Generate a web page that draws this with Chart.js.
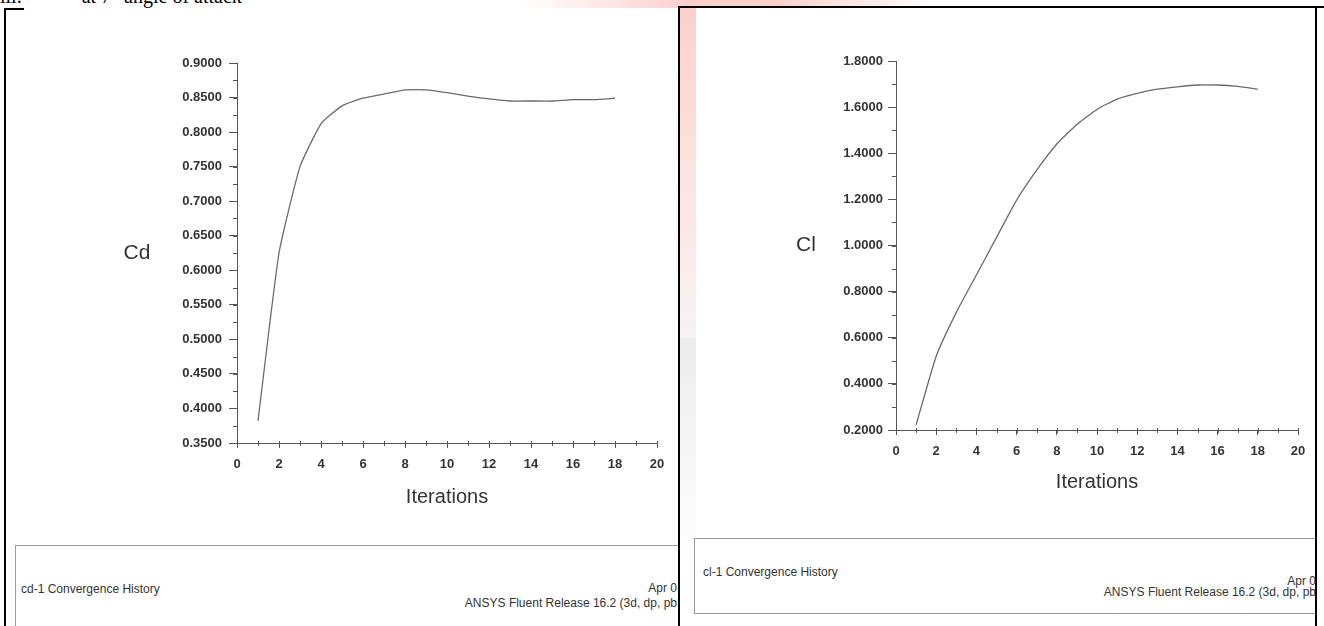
<!DOCTYPE html>
<html>
<head>
<meta charset="utf-8">
<script src="https://cdn.jsdelivr.net/npm/chart.js@4"></script>
<style>
  html, body { margin: 0; padding: 0; background: #fff; }
  body { width: 1324px; height: 626px; position: relative; overflow: hidden; font-family: 'Liberation Sans', Arial, sans-serif; }
  .abs { position: absolute; }
  .heading { top: -14px; left: 0; font: 20px/20px 'Liberation Serif', 'Times New Roman', serif; white-space: pre; color: #000; }
  .panel { position: absolute; overflow: hidden; }
  .footer { position: absolute; border: 1px solid #9a9a9a; background: #fff; }
  .ftxt { position: absolute; font-size: 12px; color: #333; white-space: pre; }
</style>
</head>
<body>
<!-- faint watermark behind the two plots -->
<div class="abs" style="left:520px; top:0; width:420px; height:8px; background:linear-gradient(90deg, rgba(245,150,140,0), rgba(245,150,140,0.45) 40%, rgba(245,150,140,0.45) 60%, rgba(245,150,140,0));"></div>
<div class="abs" style="left:680px; top:8px; width:16px; height:330px; background:linear-gradient(180deg, rgba(248,170,160,0.55), rgba(248,185,175,0.35) 60%, rgba(220,200,210,0.25));"></div>
<div class="abs" style="left:680px; top:338px; width:16px; height:230px; background:linear-gradient(180deg, rgba(200,200,200,0.35), rgba(220,220,220,0));"></div>

<div class="abs heading">iii.            at 7° angle of attack</div>

<!-- left plot: drag coefficient -->
<div class="panel" style="left:0; top:0; width:678px; height:626px;">
  <div class="abs" style="left:4px; top:8px; width:20px; height:2px; background:#000;"></div>
  <div class="abs" style="left:4px; top:8px; width:2px; height:620px; background:#000;"></div>
  <div class="abs" style="left:100px; top:40px; width:576px; height:480px;"><canvas id="cdChart"></canvas></div>
  <div class="footer" style="left:15px; top:545px; width:700px; height:120px;"></div>
  <div class="ftxt" style="left:21px; top:582px;">cd-1 Convergence History</div>
  <div class="ftxt" style="right:1px; top:581px;">Apr 0</div>
  <div class="ftxt" style="right:1px; top:596px;">ANSYS Fluent Release 16.2 (3d, dp, pb</div>
</div>

<!-- right plot: lift coefficient -->
<div class="abs" style="left:678px; top:6px; width:646px; height:2px; background:#000;"></div>
<div class="abs" style="left:678px; top:6px; width:2px; height:620px; background:#000;"></div>
<div class="panel" style="left:680px; top:8px; width:636px; height:618px;">
  <div class="abs" style="left:80px; top:22px; width:556px; height:480px;"><canvas id="clChart"></canvas></div>
  <div class="footer" style="left:14px; top:530px; width:700px; height:74px;"></div>
  <div class="ftxt" style="left:23px; top:557px;">cl-1 Convergence History</div>
  <div class="ftxt" style="right:0; top:566px;">Apr 0</div>
  <div class="ftxt" style="right:0; top:577px;">ANSYS Fluent Release 16.2 (3d, dp, pb</div>
</div>
<div class="abs" style="left:1315px; top:6px; width:2px; height:620px; background:#000;"></div>

<script>
// iteration numbers and monitored force coefficients
const iterations = [1, 2, 3, 4, 5, 6, 7, 8, 9, 10, 11, 12, 13, 14, 15, 16, 17, 18];
const cdValues = [0.382, 0.625, 0.750, 0.812, 0.838, 0.849, 0.855, 0.861, 0.861, 0.857,
                  0.852, 0.848, 0.845, 0.845, 0.845, 0.847, 0.847, 0.849];
const clValues = [0.222, 0.520, 0.710, 0.872, 1.035, 1.197, 1.327, 1.440, 1.525, 1.590,
                  1.635, 1.660, 1.678, 1.688, 1.696, 1.696, 1.690, 1.678];

// axis ranges and tick steps
const xRange = { min: 0, max: 20, step: 2, minor: 1 };
const cdRange = { min: 0.35, max: 0.90, step: 0.05, minor: 0.025 };
const clRange = { min: 0.2, max: 1.8, step: 0.2, minor: 0.1 };

const axisColor = '#555';
const textColor = '#333';
const tickFont = { size: 13, weight: 'bold' };
Chart.defaults.font.family = "'Liberation Sans', Arial, sans-serif";
Chart.defaults.color = textColor;

// small unlabelled ticks between the numbered ones
const minorTicks = {
  id: 'minorTicks',
  afterDraw(chart, args, opts) {
    const { ctx, scales: { x, y } } = chart;
    ctx.save();
    ctx.strokeStyle = axisColor;
    ctx.lineWidth = 1;
    ctx.beginPath();
    for (let v = x.min; v <= x.max + 1e-9; v += opts.xStep) {
      const px = Math.round(x.getPixelForValue(v)) + 0.5;
      ctx.moveTo(px, x.top - 2);
      ctx.lineTo(px, x.top + 3);
    }
    for (let v = y.min; v <= y.max + 1e-9; v += opts.yStep) {
      const py = Math.round(y.getPixelForValue(v)) + 0.5;
      ctx.moveTo(y.right - 4, py);
      ctx.lineTo(y.right, py);
    }
    ctx.stroke();
    ctx.restore();
  }
};

// horizontal y axis caption, as Fluent draws it
const sideTitle = {
  id: 'sideTitle',
  afterDraw(chart, args, opts) {
    const { ctx, chartArea } = chart;
    ctx.save();
    ctx.font = opts.size + "px 'Liberation Sans', Arial, sans-serif";
    ctx.fillStyle = textColor;
    ctx.textAlign = 'center';
    ctx.textBaseline = 'middle';
    ctx.fillText(opts.text, chartArea.left - opts.offset, (chartArea.top + chartArea.bottom) / 2);
    ctx.restore();
  }
};

function makeChart(id, values, yRange, cfg) {
  const points = iterations.map((it, i) => ({ x: it, y: values[i] }));
  return new Chart(document.getElementById(id), {
    type: 'line',
    data: {
      datasets: [{
        data: points,
        borderColor: '#6a6a6a',
        borderWidth: 1.3,
        pointRadius: 0,
        fill: false,
        tension: 0.15
      }]
    },
    plugins: [minorTicks, sideTitle],
    options: {
      responsive: true,
      maintainAspectRatio: false,
      animation: false,
      events: [],
      layout: { padding: cfg.padding },
      plugins: {
        legend: { display: false },
        tooltip: { enabled: false },
        minorTicks: { xStep: xRange.minor, yStep: yRange.minor },
        sideTitle: { text: cfg.yTitle, offset: cfg.titleOffset, size: 21 }
      },
      scales: {
        x: {
          type: 'linear',
          min: xRange.min,
          max: xRange.max,
          afterFit: s => { s.height = cfg.xHeight; },
          ticks: { stepSize: xRange.step, padding: 9, font: tickFont, color: textColor, maxRotation: 0 },
          grid: { drawOnChartArea: false, tickLength: 5, tickColor: axisColor },
          border: { color: axisColor, width: 1 },
          title: { display: true, text: 'Iterations', font: { size: 20 }, color: textColor, padding: { top: 0, bottom: cfg.titlePad } }
        },
        y: {
          min: yRange.min,
          max: yRange.max,
          afterFit: s => { s.width = cfg.yWidth; },
          ticks: { stepSize: yRange.step, padding: cfg.tickPad, font: tickFont, color: textColor,
                   callback: v => Number(v).toFixed(4) },
          grid: { drawOnChartArea: false, tickLength: 8, tickColor: axisColor },
          border: { color: axisColor, width: 1 }
        }
      }
    }
  });
}

makeChart('cdChart', cdValues, cdRange, {
  padding: { top: 23, right: 19, left: 0, bottom: 0 },
  yWidth: 137, xHeight: 77, titlePad: 11, tickPad: 7,
  yTitle: 'Cd', titleOffset: 100
});

makeChart('clChart', clValues, clRange, {
  padding: { top: 31, right: 18, left: 0, bottom: 0 },
  yWidth: 136, xHeight: 80, titlePad: 16, tickPad: 5,
  yTitle: 'Cl', titleOffset: 90
});
</script>
</body>
</html>
